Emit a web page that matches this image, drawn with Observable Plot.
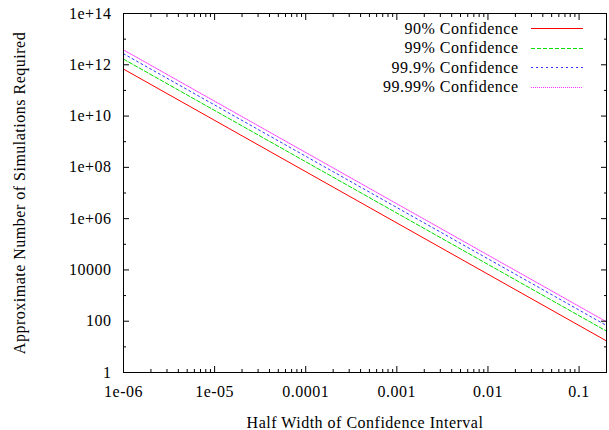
<!DOCTYPE html>
<html><head><meta charset="utf-8">
<script src="https://cdn.jsdelivr.net/npm/d3@7"></script>
<script src="https://cdn.jsdelivr.net/npm/@observablehq/plot@0.6"></script>
<style>body{margin:0;background:#fff} svg text{font-family:"Liberation Serif",serif !important; letter-spacing:0.5px}</style>
</head><body><div id="chart"></div>
<script>
// ---- data ----
const seriesNames = ["90% Confidence", "99% Confidence", "99.9% Confidence", "99.99% Confidence"];
const halfWidths = [1e-6, 0.2];
const sims90 = [6.8e11, 17];
const sims99 = [1.66e12, 41];
const sims999 = [2.7e12, 68];
const sims9999 = [3.8e12, 95];
const xTickValues = [1e-6, 1e-5, 1e-4, 1e-3, 1e-2, 1e-1];
const xTickLabels = ["1e-06", "1e-05", "0.0001", "0.001", "0.01", "0.1"];
const yTickValues = [1, 1e2, 1e4, 1e6, 1e8, 1e10, 1e12, 1e14];
const yTickLabels = ["1", "100", "10000", "1e+06", "1e+08", "1e+10", "1e+12", "1e+14"];
const yMinorTicks = [1e1, 1e3, 1e5, 1e7, 1e9, 1e11, 1e13];

const seriesValues = [sims90, sims99, sims999, sims9999];
const styles = [
  {stroke: "#ff0000", dash: null},
  {stroke: "#00dd00", dash: "4,2"},
  {stroke: "#3333ff", dash: "2,3"},
  {stroke: "#ff33ff", dash: "1,1"}
];
const data = seriesNames.flatMap((name, i) => halfWidths.map((x, j) => ({series: name, x, y: seriesValues[i][j]})));

const xFmt = new Map(xTickValues.map((v, i) => [v, xTickLabels[i]]));
const yFmt = new Map(yTickValues.map((v, i) => [v, yTickLabels[i]]));
const xMinor = d3.scaleLog().domain([1e-6, 0.2]).ticks().filter(v => !xTickValues.some(t => Math.abs(t - v) / t < 1e-6));

const font = "Liberation Serif";
const fsize = "16px";
const empty = () => "";

// legend layout (pixels relative to the frame's top-right corner)
const legendRow = 19.5, legendTop = 15;

const marks = [
  ...seriesNames.map((name, i) => Plot.line(data.filter(d => d.series === name), {
    x: "x", y: "y", stroke: styles[i].stroke, strokeWidth: 1,
    strokeDasharray: styles[i].dash
  })),
  Plot.frame({stroke: "black", strokeWidth: 1}),
  Plot.axisX({anchor: "bottom", ticks: xTickValues, tickSize: -6, tickFormat: empty, label: null}),
  Plot.axisX({anchor: "top", ticks: xTickValues, tickSize: -6, tickFormat: empty, label: null}),
  Plot.axisX({anchor: "bottom", ticks: xMinor, tickSize: -3, tickFormat: empty, label: null}),
  Plot.axisX({anchor: "top", ticks: xMinor, tickSize: -3, tickFormat: empty, label: null}),
  Plot.axisY({anchor: "left", ticks: yTickValues, tickSize: -6, tickFormat: empty, label: null}),
  Plot.axisY({anchor: "right", ticks: yTickValues, tickSize: -6, tickFormat: empty, label: null}),
  Plot.axisY({anchor: "left", ticks: yMinorTicks, tickSize: -3, tickFormat: empty, label: null}),
  Plot.axisY({anchor: "right", ticks: yMinorTicks, tickSize: -3, tickFormat: empty, label: null}),
  Plot.axisX({anchor: "bottom", ticks: xTickValues, tickSize: 0, tickPadding: 13,
    tickFormat: d => xFmt.get(d), label: "Half Width of Confidence Interval",
    labelAnchor: "center", labelArrow: "none", labelOffset: 55}),
  Plot.axisY({anchor: "left", ticks: yTickValues, tickSize: 0, tickPadding: 12,
    tickFormat: d => yFmt.get(d), label: "Approximate Number of Simulations Required",
    labelAnchor: "center", labelArrow: "none", labelOffset: 110}),
  // legend labels
  ...seriesNames.map((name, i) => Plot.text([name], {
    text: d => d, frameAnchor: "top-right", textAnchor: "end", lineAnchor: "middle",
    dx: -88, dy: legendTop + i * legendRow, fill: "#000"
  }))
];

const svg = Plot.plot({
  width: 609, height: 430,
  marginLeft: 123, marginRight: 3, marginTop: 13, marginBottom: 58,
  style: {fontFamily: font, fontSize: fsize, color: "#000", background: "#fff"},
  x: {type: "log", domain: [1e-6, 0.2]},
  y: {type: "log", domain: [1, 1e14]},
  marks
});
document.getElementById("chart").appendChild(svg);

// legend line samples
const lg = d3.select(svg).append("g");
seriesNames.forEach((name, i) => {
  const y = Math.round(13 + legendTop + i * legendRow) + 0.5;
  lg.append("line").attr("x1", 531).attr("x2", 583).attr("y1", y).attr("y2", y)
    .attr("stroke", styles[i].stroke).attr("stroke-width", 1)
    .attr("stroke-dasharray", styles[i].dash);
});
</script>
</body></html>
